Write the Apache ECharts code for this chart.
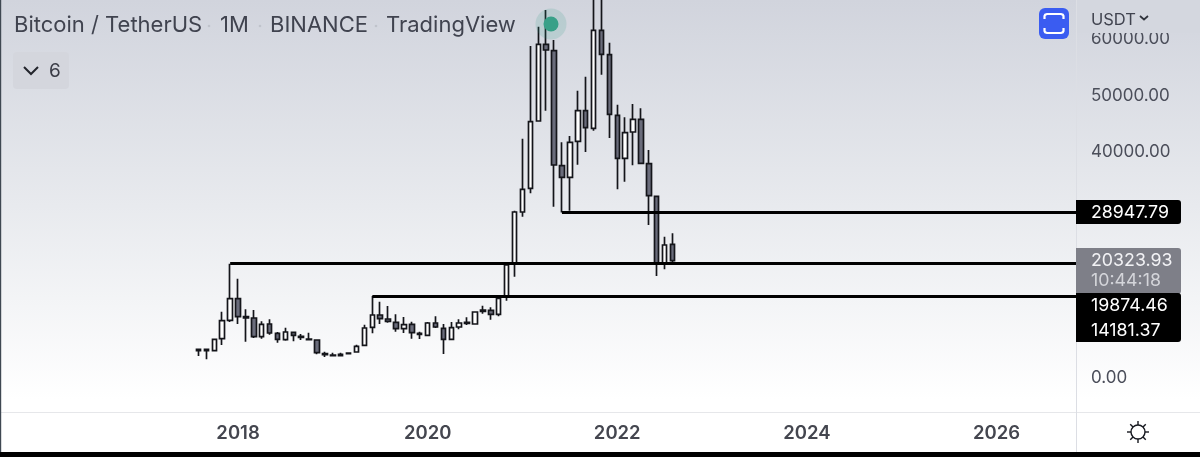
<!DOCTYPE html>
<html><head><meta charset="utf-8">
<style>html,body{margin:0;padding:0;background:#fff}#c{width:1200px;height:457px}</style>
<script src="https://cdn.jsdelivr.net/npm/echarts@6/dist/echarts.min.js"></script>
</head><body><div id="c"></div>
<script>
const firstCandle = '2017-08';
const opens  = [4484,4720,4484,6608,9853,13688,10502,10266,6962,9204,7552,6431,7729,7021,6549,6372,3953,3717,3835,3953,4248,5428,8614,10797,10089,9499,8378,9145,7552,7198,9381,8437,6490,8673,9322,9204,11446,11623,10915,13983,19942,29028,33217,45135,58705,57584,37229,35164,41536,46964,43837,61183,56876,46138,38527,43188,45430,37583,31801,19942,23305];
const closes = [4720,4484,6490,9794,13688,10502,10266,6962,9145,7611,6490,7788,7198,6844,6431,4130,3776,3599,3599,4071,5251,8496,10797,10148,9676,8378,9086,7670,7375,9381,8673,6490,8555,9381,9499,11328,11682,10915,13747,19647,29028,33040,45017,58705,57702,37347,35164,41359,46964,43955,61183,56935,46315,38527,43070,45430,37642,31919,19942,23187,20414];
const lows   = [3540,2950,4366,5487,9558,9204,6077,6726,6608,7316,5900,6254,6136,6372,6372,3835,3363,3540,3540,3894,4189,5310,7552,9204,9440,7847,7611,6608,6549,7080,8496,3894,6313,8260,9027,9086,11033,9971,10561,13334,17582,28202,32332,45017,46964,29972,28947,29264,37406,39648,43424,53336,42126,33040,34397,37288,37642,26727,17700,18880,19647];
const highs  = [4779,4838,6608,11387,19874,17228,11800,11682,9676,10030,7788,8555,7788,7434,7670,6490,4307,4130,4130,4071,5546,9086,14181,13157,12390,10915,10443,9617,7847,9558,10561,9204,9558,10030,10384,11446,12449,12154,13865,19800,29264,42008,58410,61832,64782,59472,41359,42480,50504,52982,67000,69000,59000,48026,45784,48144,47377,40002,31801,24662,25252];
const tickYears = ['2018','2020','2022','2024','2026'];
const priceTicks = [0,10000,20000,30000,40000,50000,60000];
const levelPrices = [28947.79,19874.46,14181.37];
const levelStarts = ['2021-06','2017-12','2019-06'];
const titleParts = ['Bitcoin / TetherUS','1M','BINANCE','TradingView'];
const tagLabels = ['28947.79','20323.93','10:44:18','19874.46','14181.37'];

// month axis from 2015-08 to 2026-12
const categories = [];
for (let y = 2015, m = 8; categories.length < 137; m++) {
  if (m > 12) { m = 1; y++; }
  categories.push(y + '-' + String(m).padStart(2, '0'));
}
const offset = categories.indexOf(firstCandle);
const candleData = categories.map((c, i) => {
  const k = i - offset;
  return (k >= 0 && k < opens.length) ? [opens[k], closes[k], lows[k], highs[k]] : '-';
});
const lastCat = categories[categories.length - 1];
const FONT = 'Inter, "Noto Sans", sans-serif';
const tagStyle = {fontFamily: FONT, fontSize: 17.8, fill: '#fff', textVerticalAlign: 'middle', textAlign: 'left'};
const txt = (x, y, text, extra) => ({type: 'text', z: 30, x, y, silent: true, style: Object.assign({}, tagStyle, {text}, extra || {})});
const rays = [];
for (let a = 0; a < 8; a++) {
  const r = a * Math.PI / 4, c = Math.cos(r), s = Math.sin(r);
  rays.push({type: 'line', z: 30, silent: true, shape: {x1: 1138 + 7 * c, y1: 432 + 7 * s, x2: 1138 + 11 * c, y2: 432 + 11 * s}, style: {stroke: '#16181f', lineWidth: 1.4}});
}
const graphic = [
  {type: 'rect', z: -1, silent: true, shape: {x: 0, y: 0, width: 1200, height: 412},
   style: {fill: {type: 'linear', x: 0, y: 0, x2: 0, y2: 1, colorStops: [
     {offset: 0, color: '#d1d4dd'}, {offset: 0.5, color: '#e8eaee'}, {offset: 0.97, color: '#ffffff'}, {offset: 1, color: '#ffffff'}]}}},
  {type: 'line', z: 2, silent: true, shape: {x1: 0, y1: 412.5, x2: 1200, y2: 412.5}, style: {stroke: '#e6e7ea', lineWidth: 1}},
  {type: 'line', z: 2, silent: true, shape: {x1: 1076.5, y1: 0, x2: 1076.5, y2: 452}, style: {stroke: '#dcdee4', lineWidth: 1}},
  // header mask over clipped 60000 label
  {type: 'rect', z: 20, silent: true, shape: {x: 1077, y: 0, width: 123, height: 33},
   style: {fill: '#d4d7df'}},
  txt(14, 25, titleParts[0], {fontSize: 22, fill: '#40434f'}),
  txt(220, 25, titleParts[1], {fontSize: 22, fill: '#40434f'}),
  txt(270, 25, titleParts[2], {fontSize: 22, fill: '#40434f'}),
  txt(386, 25, titleParts[3], {fontSize: 22, fill: '#40434f'}),
  {type: 'circle', z: 30, silent: true, shape: {cx: 209, cy: 26, r: 1.3}, style: {fill: '#c0c3cb'}},
  {type: 'circle', z: 30, silent: true, shape: {cx: 260, cy: 26, r: 1.3}, style: {fill: '#c0c3cb'}},
  {type: 'circle', z: 30, silent: true, shape: {cx: 376, cy: 26, r: 1.3}, style: {fill: '#c0c3cb'}},
  {type: 'circle', z: 30, silent: true, shape: {cx: 551, cy: 24, r: 15.5}, style: {fill: 'rgba(46,158,131,0.16)'}},
  {type: 'circle', z: 31, silent: true, shape: {cx: 551, cy: 24, r: 7.5}, style: {fill: '#38a088'}},
  {type: 'rect', z: 1, silent: true, shape: {x: 13, y: 52, width: 56, height: 37, r: 4}, style: {fill: '#d4d6dd'}},
  {type: 'polyline', z: 30, silent: true, shape: {points: [[24, 67], [31, 74], [38, 67]]}, style: {stroke: '#23252c', lineWidth: 2, fill: 'none'}},
  txt(49, 71, '6', {fontSize: 19, fill: '#3a3c46'}),
  {type: 'rect', z: 30, silent: true, shape: {x: 1039, y: 8, width: 30, height: 31, r: 6}, style: {fill: '#3a5cf1'}},
  {type: 'polyline', z: 31, silent: true, shape: {points: [[1044.5, 19], [1044.5, 16], [1045.2, 14.7], [1047, 14], [1061, 14], [1062.8, 14.7], [1063.5, 16], [1063.5, 19]]}, style: {stroke: '#fff', lineWidth: 2.2, fill: 'none'}},
  {type: 'polyline', z: 31, silent: true, shape: {points: [[1044.5, 28], [1044.5, 31], [1045.2, 32.3], [1047, 33], [1061, 33], [1062.8, 32.3], [1063.5, 31], [1063.5, 28]]}, style: {stroke: '#fff', lineWidth: 2.2, fill: 'none'}},
  txt(1091, 20, 'USDT', {fontSize: 16.5, fill: '#40434f'}),
  {type: 'polyline', z: 30, silent: true, shape: {points: [[1140, 16], [1144, 19.5], [1148, 16]]}, style: {stroke: '#30333c', lineWidth: 1.7, fill: 'none'}},
  {type: 'rect', z: 20, silent: true, shape: {x: 1076, y: 200, width: 105, height: 24, r: [0, 3, 3, 0]}, style: {fill: '#000'}},
  {type: 'rect', z: 20, silent: true, shape: {x: 1076, y: 248, width: 105, height: 46, r: [0, 3, 3, 0]}, style: {fill: '#7e7f88'}},
  {type: 'rect', z: 21, silent: true, shape: {x: 1076, y: 293, width: 105, height: 49, r: [0, 3, 3, 0]}, style: {fill: '#000'}},
  txt(1091, 213, tagLabels[0]),
  txt(1091, 261, tagLabels[1], {fill: '#f2f2f5'}),
  txt(1091, 281, tagLabels[2], {fill: '#d4d5da'}),
  txt(1091, 306, tagLabels[3]),
  txt(1091, 331, tagLabels[4]),
  {type: 'circle', z: 30, silent: true, shape: {cx: 1138, cy: 432, r: 7}, style: {stroke: '#16181f', lineWidth: 1.4, fill: 'none'}},
  ...rays,
  {type: 'rect', z: 40, silent: true, shape: {x: 0, y: 452, width: 1200, height: 5}, style: {fill: '#000'}},
  {type: 'rect', z: 40, silent: true, shape: {x: 0, y: 0, width: 1.2, height: 452}, style: {fill: '#3f4852'}}
];
const chart = echarts.init(document.getElementById('c'), null, {renderer: 'canvas'});
chart.setOption({
  animation: false,
  backgroundColor: '#fff',
  grid: {left: 5, top: 0, width: 1082.3, height: 412},
  xAxis: {
    type: 'category', data: categories, boundaryGap: true,
    axisLine: {show: false}, axisTick: {show: false}, splitLine: {show: false},
    axisLabel: {
      interval: (i, v) => v.endsWith('-01') && tickYears.includes(v.slice(0, 4)),
      formatter: v => v.slice(0, 4), hideOverlap: false,
      margin: 12, color: '#44464f', fontFamily: FONT, fontSize: 18.5, fontWeight: 600
    }
  },
  yAxis: {
    type: 'value', position: 'right', min: -6372, max: 66549, scale: true,
    axisLine: {show: false}, axisTick: {show: false}, splitLine: {show: false},
    axisLabel: {customValues: priceTicks, formatter: v => '{p|' + v.toFixed(2) + '}', margin: 3.7,
      rich: {p: {padding: [4, 0, 0, 0], color: '#4b4e5a', fontFamily: FONT, fontSize: 17}}}
  },
  series: [{
    type: 'candlestick', data: candleData, barWidth: 5, clip: true,
    itemStyle: {color: '#ffffff', color0: '#6a6c7b', borderColor: '#14151a', borderColor0: '#14151a', borderWidth: 1.7},
    markLine: {
      silent: true, symbol: 'none', animation: false,
      label: {show: false},
      lineStyle: {color: '#000', width: 3, type: 'solid'},
      data: levelPrices.map((p, i) => [{coord: [levelStarts[i], p]}, {coord: [lastCat, p]}])
    }
  }],
  graphic: {elements: graphic}
});
</script></body></html>
